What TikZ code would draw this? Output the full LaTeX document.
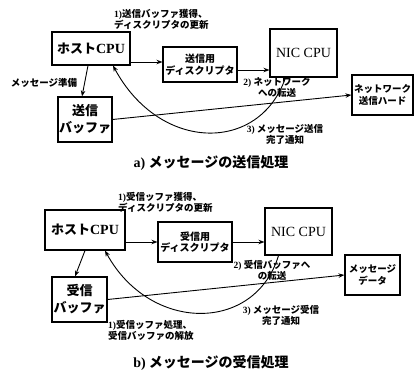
\documentclass[tikz,border=0pt]{standalone}
\usepackage{fontspec}
\setmainfont{Liberation Serif}
\newfontfamily\jpfont{Noto Sans CJK JP}
\usetikzlibrary{arrows.meta}
\newcommand\lat[1]{{\rmfamily #1}}
\begin{document}
\begin{tikzpicture}[x=1pt,y=-1pt,
  box/.style={draw, line width=1.1pt, inner sep=0pt, align=center},
  jbig/.style={font=\jpfont\bfseries\fontsize{13}{17}\selectfont},
  jmid/.style={font=\jpfont\bfseries\fontsize{10}{11.5}\selectfont},
  jsm/.style={font=\jpfont\bfseries\fontsize{9.5}{12}\selectfont},
  lbl/.style={font=\jpfont\bfseries\fontsize{9.5}{11}\selectfont, inner sep=0pt},
  captext/.style={font=\jpfont\bfseries\fontsize{14}{16}\selectfont, inner sep=0pt},
  arr/.style={-{Stealth[length=6pt,width=4.5pt]}, line width=0.9pt},
  ]
\fill[white] (0,0) rectangle (414,374);
\useasboundingbox (0,0) rectangle (414,374);

% ---------- a) top panel ----------
\node[box, jbig, minimum width=78pt, minimum height=33pt] (host) at (91,48.5) {ホスト\lat{\fontsize{14}{17}\selectfont CPU}};
\node[box, jmid, minimum width=74pt, minimum height=35pt] (desc) at (200,64.5) {送信用\\ディスクリプタ};
\node[box, font=\rmfamily\fontsize{14}{16}\selectfont, minimum width=67pt, minimum height=48pt] (nic) at (303.5,53) {NIC CPU};
\node[box, jsm, minimum width=61pt, minimum height=40pt] (hard) at (382.5,95) {ネットワーク\\送信ハード};
\node[box, jbig, minimum width=54pt, minimum height=45pt] (sbuf) at (85,119.5) {送信\\バッファ};

\draw[arr] (host.east |- 0,62) -- (desc.west |- 0,62);
\draw[arr] ([yshift=-5.5pt]desc.east) -- (nic.west |- 0,70);
\draw[arr] ([xshift=-3pt]host.south) -- ([xshift=-3pt]sbuf.north);
\draw[arr] (sbuf.east) -- (hard.west);
\draw[arr] ([xshift=-18pt]nic.south) .. controls (260,153) and (160,153) .. ([xshift=22pt]host.south);

\node[lbl, anchor=north west, align=left] (l1a) at (114,9) {\lat{1)}送信バッファ獲得、\\ディスクリプタの更新};
\node[lbl] (l0a) at (44,83) {メッセージ準備};
\node[lbl, align=center] (l2a) at (277,87.5) {\lat{2)} ネットワーク\\への転送};
\node[lbl, align=center] (l3a) at (285,134) {\lat{3)} メッセージ送信\\完了通知};
\node[captext] (capa) at (211,163) {\lat{a)} メッセージの送信処理};

% ---------- b) bottom panel ----------
\node[box, jbig, minimum width=80pt, minimum height=40pt] (host2) at (85,230) {ホスト\lat{\fontsize{14}{17}\selectfont CPU}};
\node[box, jmid, minimum width=74pt, minimum height=40pt] (desc2) at (195,242) {受信用\\ディスクリプタ};
\node[box, font=\rmfamily\fontsize{14}{16}\selectfont, minimum width=67pt, minimum height=47pt] (nic2) at (298.5,231.5) {NIC CPU};
\node[box, jsm, minimum width=55pt, minimum height=40pt] (data) at (372.5,275) {メッセージ\\データ};
\node[box, jbig, minimum width=55pt, minimum height=45pt] (rbuf) at (79.5,299.5) {受信\\バッファ};

\draw[arr] (host2.east |- 0,242) -- (desc2.west);
\draw[arr] (desc2.east) -- (nic2.west |- desc2.east);
\draw[arr] (host2.south) -- ([xshift=-4.5pt]rbuf.north);
\draw[arr] (rbuf.east) -- (data.west);
\draw[arr] ([xshift=-20pt]nic2.south) .. controls (255,333) and (150,333) .. ([xshift=20pt]host2.south);

\node[lbl, anchor=north west, align=left] (l1b) at (118,192) {\lat{1)}受信ッファ獲得、\\ディスクリプタの更新};
\node[lbl, align=center] (l2b) at (272,270.5) {\lat{2)} 受信バッファへ\\の転送};
\node[lbl, align=center] (l3b) at (281,315) {\lat{3)} メッセージ受信\\完了通知};
\node[lbl, anchor=north west, align=left] (l4b) at (108,320) {\lat{1)}受信ッファ処理、\\受信バッファの解放};
\node[captext] (capb) at (211,363) {\lat{b)} メッセージの受信処理};
\end{tikzpicture}
\end{document}
